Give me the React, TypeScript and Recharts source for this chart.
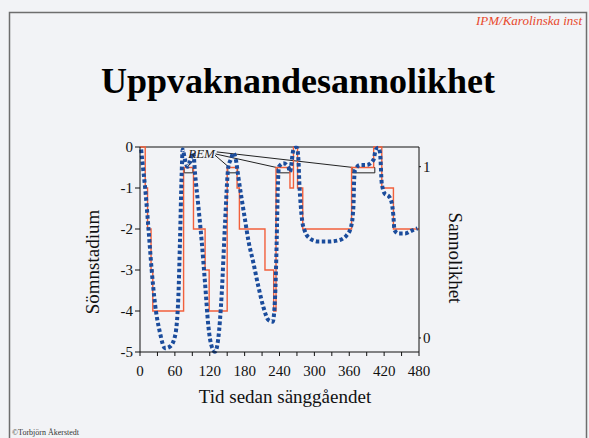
import {
  LineChart,
  Line,
  XAxis,
  YAxis,
  ReferenceLine,
  ReferenceArea,
  ReferenceDot,
} from "recharts";

// sömnstadium (step curve), minutes since bedtime
const stageTimes = [0, 9, 13, 19, 22, 75, 92, 112, 119, 150, 167, 171, 215, 230, 234, 258, 264, 271, 280, 364, 402, 416, 436, 480];
const stageValues = [0, -1, -2, -3, -4, -0.5, -2, -3, -4, -0.5, -1, -2, -3, -4, -0.5, -1, 0, -1, -2, -0.5, 0, -1, -2, -2];

// uppvaknandesannolikhet (dotted curve)
const probTimes = [
  2, 5, 8.6, 14.3, 20, 25.8, 34.4, 43, 51.6, 60.2, 66, 68.8, 71.7, 73.4, 77.5, 81.5, 86, 91.8, 94.7,
  100.4, 106, 111.9, 117.6, 123.4, 129, 134.8, 140.6, 146.3, 152, 156, 160.6, 165, 169.2, 175, 180.7,
  186.4, 195, 203.7, 212.3, 220.9, 228.3, 232.4, 235.2, 237, 239.2, 246.7, 255, 258, 264, 267, 270,
  272.6, 274.2, 276.6, 278.8, 284, 292.6, 306.9, 324, 341.4, 355.7, 363.2, 367.2, 368.4, 370, 378.7,
  390, 401.7, 405.7, 410, 413, 416, 421.7, 427.4, 433, 436, 437.8, 444.6, 456, 467.6, 477.4,
];
const probValues = [
  1.1, 1.0, 0.885, 0.65, 0.4, 0.2, 0.03, -0.06, -0.05, 0.01, 0.24, 0.57, 0.96, 1.1, 1.04, 1.0, 1.03, 1.08, 0.96,
  0.77, 0.57, 0.32, 0.07, -0.05, -0.08, 0.0, 0.26, 0.67, 1.0, 1.04, 1.08, 1.04, 0.94, 0.81, 0.69,
  0.57, 0.44, 0.3, 0.18, 0.105, 0.095, 0.24, 0.57, 0.865, 1.0, 1.02, 1.0, 0.97, 1.1, 1.11, 1.11,
  1.04, 0.9, 0.77, 0.69, 0.62, 0.58, 0.563, 0.563, 0.57, 0.6, 0.65, 0.77, 0.92, 0.98, 1.01,
  1.01, 1.04, 1.1, 1.11, 1.08, 0.9, 0.84, 0.83, 0.79, 0.71, 0.63, 0.61, 0.61, 0.627, 0.64,
];

const xTicks = [0, 30, 60, 90, 120, 150, 180, 210, 240, 270, 300, 330, 360, 390, 420, 450, 480];
const stageTicks = [-5, -4, -3, -2, -1, 0];
const probTicks = [0, 1];

// REM-perioder
const remStarts = [76, 151, 236, 365];
const remEnds = [91, 168, 258, 404];
// pointer lines from the REM label: [fromT, fromStage, toT, toStage]
const remPointers = [
  [92, -0.32, 82, -0.48],
  [129, -0.2, 152, -0.48],
  [130, -0.17, 235, -0.5],
  [132, -0.12, 367, -0.5],
];

const stageData = stageTimes.map((t, i) => ({ t, stage: stageValues[i] }));
const probData = probTimes.map((t, i) => ({ t, p: probValues[i] }));

const SERIF = "'Liberation Serif', 'Times New Roman', serif";
const tickStyle = { fontSize: 15, fill: "#111", fontFamily: SERIF };

export default function App() {
  return (
    <div style={{ position: "absolute", left: 0, top: 0, width: 589, height: 438, background: "#f2f3f6", overflow: "hidden" }}>
      <svg width={589} height={438} style={{ position: "absolute", left: 0, top: 0 }}>
        <path d="M9.5 438 V12.5 H586.5 V438" fill="none" stroke="#6e6e6e" strokeWidth={1.5} />
        <text x={582} y={25} textAnchor="end" fontFamily={SERIF} fontStyle="italic" fontSize={13} fill="#e8482c">
          IPM/Karolinska inst
        </text>
        <text x={298} y={93} textAnchor="middle" fontFamily={SERIF} fontWeight="bold" fontSize={36} fill="#000">
          Uppvaknandesannolikhet
        </text>
        <text x={12} y={435} fontFamily={SERIF} fontSize={8} fill="#333">
          ©Torbjörn Åkerstedt
        </text>
      </svg>

      <div style={{ position: "absolute", left: 0, top: 0 }}>
        <LineChart width={589} height={438} margin={{ top: 147, left: 100, right: 130, bottom: 56 }}>
          <XAxis
            dataKey="t"
            type="number"
            domain={[0, 480]}
            ticks={xTicks}
            tickFormatter={(v) => (v % 60 === 0 ? String(v) : "")}
            interval={0}
            height={30}
            tick={tickStyle}
            tickSize={4}
            tickMargin={9}
            stroke="#111"
            allowDuplicatedCategory={false}
          />
          <YAxis
            yAxisId="left"
            type="number"
            domain={[-5, 0]}
            ticks={stageTicks}
            width={40}
            tick={tickStyle}
            tickSize={5}
            tickMargin={2}
            stroke="#111"
          />
          <YAxis
            yAxisId="right"
            orientation="right"
            type="number"
            domain={[-0.082, 1.115]}
            ticks={probTicks}
            width={40}
            tick={tickStyle}
            tickSize={2}
            tickMargin={2}
            stroke="#111"
          />
          <ReferenceLine yAxisId="left" y={0} stroke="#111" />
          {remStarts.map((s, i) => (
            <ReferenceArea
              key={`rem${i}`}
              yAxisId="left"
              x1={s}
              x2={remEnds[i]}
              y1={-0.5}
              y2={-0.63}
              fill="none"
              fillOpacity={0}
              stroke="#222"
              strokeWidth={1}
            />
          ))}
          {remPointers.map((p, i) => (
            <ReferenceLine
              key={`ptr${i}`}
              yAxisId="left"
              segment={[{ x: p[0], y: p[1] }, { x: p[2], y: p[3] }]}
              stroke="#222"
              strokeWidth={1}
            />
          ))}
          <ReferenceDot
            yAxisId="left"
            x={83}
            y={-0.27}
            r={0}
            shape={(props: any) => (
              <text x={props.cx} y={props.cy} fontFamily={SERIF} fontStyle="italic" fontSize={13} fill="#222">
                REM
              </text>
            )}
          />
          <Line
            data={stageData}
            dataKey="stage"
            yAxisId="left"
            type="stepAfter"
            stroke="#f2603c"
            strokeWidth={1.4}
            dot={false}
            isAnimationActive={false}
          />
          <Line
            data={probData}
            dataKey="p"
            yAxisId="right"
            type="monotone"
            stroke="#1b4c9c"
            strokeWidth={4}
            strokeDasharray="3.5 2.5"
            dot={false}
            isAnimationActive={false}
          />
        </LineChart>
      </div>

      <svg width={589} height={438} style={{ position: "absolute", left: 0, top: 0, pointerEvents: "none" }}>
        <text
          transform="translate(99 262) rotate(-90)"
          textAnchor="middle"
          fontFamily={SERIF}
          fontSize={19}
          fill="#111"
        >
          Sömnstadium
        </text>
        <text
          transform="translate(449 258) rotate(90)"
          textAnchor="middle"
          fontFamily={SERIF}
          fontSize={19}
          fill="#111"
        >
          Sannolikhet
        </text>
        <text x={285} y={403} textAnchor="middle" fontFamily={SERIF} fontSize={19} fill="#111">
          Tid sedan sänggåendet
        </text>
      </svg>
    </div>
  );
}
